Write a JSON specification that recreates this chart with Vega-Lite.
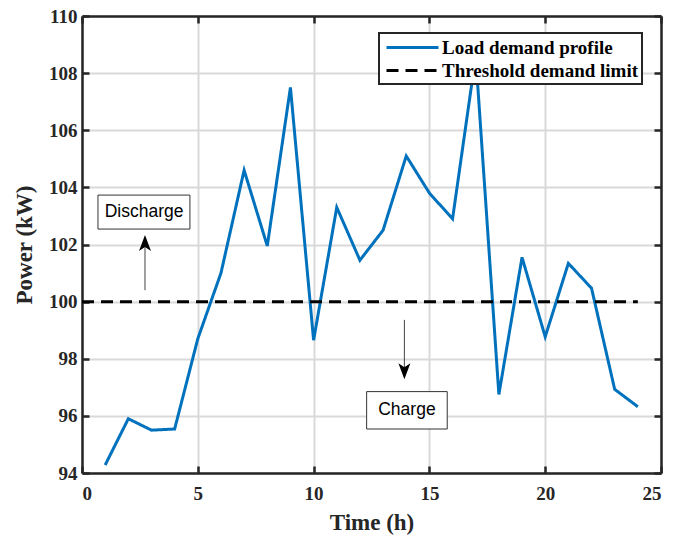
{
  "$schema": "https://vega.github.io/schema/vega-lite/v6.json",
  "width": 579,
  "height": 457,
  "autosize": "none",
  "padding": {"left": 82, "top": 16, "right": 12, "bottom": 63},
  "background": "white",
  "config": {
    "view": {"stroke": null},
    "axis": {
      "domainColor": "#262626",
      "domainWidth": 2.5,
      "tickColor": "#262626",
      "tickWidth": 2.5,
      "tickSize": -7,
      "gridColor": "#d9d9d9",
      "gridWidth": 2,
      "labelFont": "Liberation Serif",
      "labelFontWeight": "bold",
      "labelFontSize": 19,
      "labelColor": "#262626",
      "titleFont": "Liberation Serif",
      "titleFontWeight": "bold",
      "titleFontSize": 23,
      "titleColor": "#262626"
    },
    "legend": {
      "fillColor": "white",
      "strokeColor": "#262626",
      "strokeWidth": 2,
      "padding": 3,
      "labelFont": "Liberation Serif",
      "labelFontWeight": "bold",
      "labelFontSize": 19,
      "labelColor": "black",
      "labelLimit": 0,
      "symbolType": "M-2.6,0H2.6",
      "symbolSize": 400,
      "symbolOffset": 19,
      "symbolStrokeWidth": 3,
      "rowPadding": 1,
      "labelOffset": 18
    }
  },
  "datasets": {
    "series": [
      {"t": 1, "p": 94.28, "s": "Load demand profile"},
      {"t": 2, "p": 95.9, "s": "Load demand profile"},
      {"t": 3, "p": 95.5, "s": "Load demand profile"},
      {"t": 4, "p": 95.54, "s": "Load demand profile"},
      {"t": 5, "p": 98.7, "s": "Load demand profile"},
      {"t": 6, "p": 101.0, "s": "Load demand profile"},
      {"t": 7, "p": 104.6, "s": "Load demand profile"},
      {"t": 8, "p": 101.95, "s": "Load demand profile"},
      {"t": 9, "p": 107.5, "s": "Load demand profile"},
      {"t": 10, "p": 98.65, "s": "Load demand profile"},
      {"t": 11, "p": 103.3, "s": "Load demand profile"},
      {"t": 12, "p": 101.45, "s": "Load demand profile"},
      {"t": 13, "p": 102.5, "s": "Load demand profile"},
      {"t": 14, "p": 105.1, "s": "Load demand profile"},
      {"t": 15, "p": 103.8, "s": "Load demand profile"},
      {"t": 16, "p": 102.9, "s": "Load demand profile"},
      {"t": 17, "p": 108.6, "s": "Load demand profile"},
      {"t": 18, "p": 96.75, "s": "Load demand profile"},
      {"t": 19, "p": 101.55, "s": "Load demand profile"},
      {"t": 20, "p": 98.77, "s": "Load demand profile"},
      {"t": 21, "p": 101.34, "s": "Load demand profile"},
      {"t": 22, "p": 100.47, "s": "Load demand profile"},
      {"t": 23, "p": 96.93, "s": "Load demand profile"},
      {"t": 24, "p": 96.32, "s": "Load demand profile"},
      {"t": 0, "p": 100, "s": "Threshold demand limit"},
      {"t": 24, "p": 100, "s": "Threshold demand limit"}
    ],
    "boxes": [
      {"label": "Discharge", "x1": 0.69, "x2": 4.66, "y1": 102.54, "y2": 103.73, "xc": 2.68, "yc": 103.13},
      {"label": "Charge", "x1": 12.29, "x2": 15.77, "y1": 95.54, "y2": 96.85, "xc": 14.03, "yc": 96.2}
    ],
    "arrows": [
      {"dir": "up", "x": 2.72, "from": 100.4, "to": 101.98},
      {"dir": "down", "x": 13.92, "from": 99.36, "to": 97.63}
    ]
  },
  "layer": [
    {
      "data": {"name": "boxes"},
      "mark": {"type": "rect", "fill": "white", "stroke": "#333333", "strokeWidth": 1},
      "encoding": {
        "x": {"field": "x1", "type": "quantitative", "scale": {"domain": [0, 25], "nice": false},
              "axis": {"orient": "top", "title": null, "labels": false, "grid": false, "values": [0, 5, 10, 15, 20, 25]}},
        "x2": {"field": "x2"},
        "y": {"field": "y1", "type": "quantitative", "scale": {"domain": [94, 110], "nice": false},
              "axis": {"orient": "right", "title": null, "labels": false, "grid": false, "values": [94, 96, 98, 100, 102, 104, 106, 108, 110]}},
        "y2": {"field": "y2"}
      }
    },
    {
      "data": {"name": "boxes"},
      "mark": {"type": "text", "font": "Liberation Sans", "fontSize": 17.5, "color": "black", "baseline": "middle", "align": "center"},
      "encoding": {
        "x": {"field": "xc", "type": "quantitative", "axis": null},
        "y": {"field": "yc", "type": "quantitative", "axis": null},
        "text": {"field": "label"}
      }
    },
    {
      "data": {"name": "arrows"},
      "mark": {"type": "rule", "color": "#444444", "strokeWidth": 1},
      "encoding": {
        "x": {"field": "x", "type": "quantitative", "axis": null},
        "y": {"field": "from", "type": "quantitative", "axis": null},
        "y2": {"field": "to"}
      }
    },
    {
      "data": {"name": "arrows"},
      "transform": [{"filter": "datum.dir == 'up'"}],
      "mark": {"type": "point", "filled": true, "color": "black", "opacity": 1, "size": 400, "shape": "M0,-1L0.6,0.6L0,0.2L-0.6,0.6Z"},
      "encoding": {
        "x": {"field": "x", "type": "quantitative", "axis": null},
        "y": {"field": "to", "type": "quantitative", "axis": null}
      }
    },
    {
      "data": {"name": "arrows"},
      "transform": [{"filter": "datum.dir == 'down'"}],
      "mark": {"type": "point", "filled": true, "color": "black", "opacity": 1, "size": 400, "shape": "M0,1L0.6,-0.6L0,-0.2L-0.6,-0.6Z"},
      "encoding": {
        "x": {"field": "x", "type": "quantitative", "axis": null},
        "y": {"field": "to", "type": "quantitative", "axis": null}
      }
    },
    {
      "data": {"name": "series"},
      "mark": {"type": "line", "strokeWidth": 3, "clip": true},
      "encoding": {
        "x": {"field": "t", "type": "quantitative", "scale": {"domain": [0, 25], "nice": false},
              "axis": {"orient": "bottom", "title": "Time (h)", "grid": true, "values": [0, 5, 10, 15, 20, 25], "labelPadding": 18, "titlePadding": 8}},
        "y": {"field": "p", "type": "quantitative", "scale": {"domain": [94, 110], "nice": false},
              "axis": {"orient": "left", "title": "Power (kW)", "grid": true, "values": [94, 96, 98, 100, 102, 104, 106, 108, 110], "labelPadding": 12, "titlePadding": 12}},
        "color": {"field": "s", "type": "nominal", "scale": {"domain": ["Load demand profile", "Threshold demand limit"], "range": ["#0072BD", "black"]},
                  "legend": {"title": null, "orient": "none", "legendX": 297, "legendY": 17}},
        "strokeDash": {"field": "s", "type": "nominal", "scale": {"domain": ["Load demand profile", "Threshold demand limit"], "range": [[1, 0], [12, 7]]},
                       "legend": {"title": null, "orient": "none", "legendX": 297, "legendY": 17}}
      }
    }
  ],
  "resolve": {"axis": {"x": "independent", "y": "independent"}}
}
